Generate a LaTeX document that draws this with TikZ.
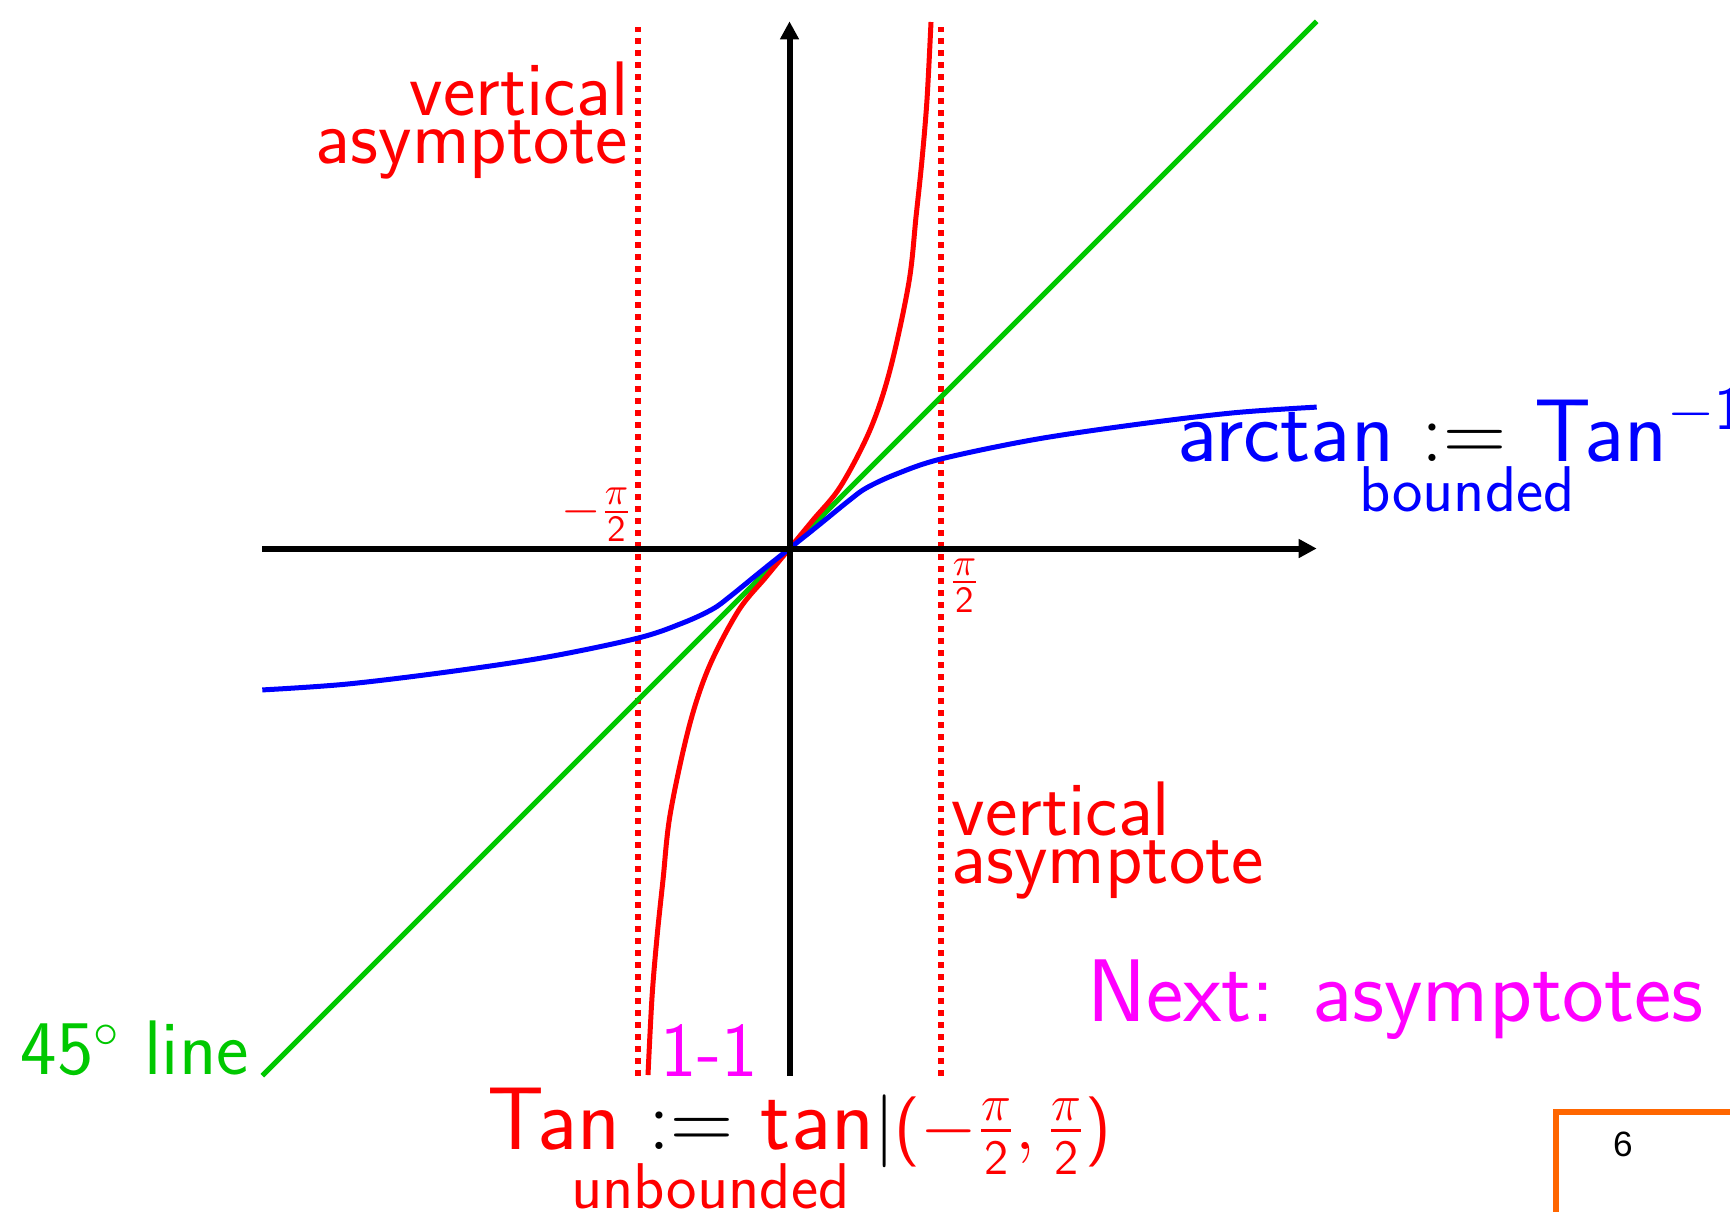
\documentclass[tikz,border=0pt]{standalone}
\usepackage{amsmath}
\usepackage{fontspec}
\newfontfamily\pagefont{Liberation Sans}
\usetikzlibrary{arrows.meta, positioning, calc}

\definecolor{tred}{RGB}{255,0,0}
\definecolor{tblue}{RGB}{0,0,255}
\definecolor{tgreen}{RGB}{0,200,0}
\definecolor{tmagenta}{RGB}{255,0,255}
\definecolor{torange}{RGB}{255,102,0}

\begin{document}
\begin{tikzpicture}[
        % styles for lines and labels
        axis/.style={
            line width=0.06cm,
            -{Triangle[length=0.18cm,width=0.18cm]}
        },
        asym/.style={
            draw=tred,
            line width=0.06cm,
            dash pattern=on 0.06cm off 0.06cm
        },
        curve/.style={
            line width=0.05cm,
            smooth,
            tension=0.55
        },
        bigtext/.style={
            font=\sffamily\fontsize{25.3}{28}\selectfont,
            inner sep=0pt
        },
        midtext/.style={
            font=\sffamily\fontsize{22}{13.4}\selectfont,
            inner sep=0pt
        },
        smalltext/.style={
            font=\sffamily\fontsize{18.4}{20}\selectfont,
            inner sep=0pt
        },
        ticktext/.style={
            font=\sffamily\fontsize{15}{16}\selectfont,
            inner sep=0pt
        }
    ]

    % frame of the picture
    \useasboundingbox (-7.895,-6.625) rectangle (9.405,5.485);

    % --- 1. AXES, ASYMPTOTES AND CURVES ---
    \begin{scope}[x=0.962cm, y=0.962cm]
        \coordinate (xLeft) at (-5.48,0);
        \coordinate (xRight) at (5.48,0);
        \coordinate (yBottom) at (0,-5.48);
        \coordinate (yTop) at (0,5.48);

        \coordinate (aLeftBot) at (-pi/2,-5.48);
        \coordinate (aLeftTop) at (-pi/2,5.42);
        \coordinate (aRightBot) at (pi/2,-5.48);
        \coordinate (aRightTop) at (pi/2,5.42);

        % dotted vertical asymptotes
        \draw[asym] (aLeftBot) -- (aLeftTop);
        \draw[asym] (aRightBot) -- (aRightTop);

        % 45 degree line
        \draw[tgreen, line width=0.05cm] (-5.48,-5.48) -- (5.48,5.48);

        % Tan (red)
        \draw[tred, curve] plot coordinates {
            (-1.471,-5.473) (-1.429,-4.662) (-1.377,-4.038) (-1.315,-3.446)
            (-1.240,-2.760) (-1.045,-1.856) (-0.837,-1.232) (-0.530,-0.645)
            (-0.244,-0.296) (0,0) (0.244,0.296) (0.530,0.645) (0.837,1.232)
            (1.045,1.856) (1.240,2.760) (1.315,3.446) (1.377,4.038)
            (1.429,4.662) (1.471,5.473)};

        % arctan (blue)
        \draw[tblue, curve] plot coordinates {
            (-5.48,-1.47) (-4.61,-1.41) (-3.57,-1.285) (-2.53,-1.13)
            (-1.571,-0.93) (-1.1,-0.77) (-0.8,-0.63) (-0.62,-0.5) (-0.3,-0.24)
            (0,0) (0.3,0.24) (0.62,0.5) (0.8,0.63) (1.1,0.77) (1.571,0.93)
            (2.53,1.13) (3.57,1.285) (4.61,1.41) (5.48,1.47)};

        % axes on top
        \draw[axis] (xLeft) -- (xRight);
        \draw[axis] (yBottom) -- (yTop);
    \end{scope}

    % --- 2. LABELS ---
    \node[midtext, text=tred, align=right, anchor=base east] (vaTop)
        at (-1.605,3.855) {vertical\\asymptote};
    \node[midtext, text=tred, align=left, anchor=base west] (vaBottom)
        at (1.615,-3.345) {vertical\\asymptote};

    \node[ticktext, text=tred, anchor=east] (negHalfPi)
        at (-1.565,0.335) {$-\frac{\pi}{\mathsf{2}}$};
    \node[ticktext, text=tred, anchor=west] (posHalfPi)
        at (1.585,-0.37) {$\frac{\pi}{\mathsf{2}}$};

    \node[bigtext, text=tblue, anchor=base west] (arctanLabel)
        at (3.87,0.875) {arctan \textcolor{black}{$:=$} Tan$^{-\mathsf{1}}$};
    \node[smalltext, text=tblue, anchor=base west] (boundedLabel)
        at (5.69,0.375) {bounded};

    \node[bigtext, text=tmagenta, anchor=base west] (nextLabel)
        at (2.97,-4.725) {Next: asymptotes};

    \node[midtext, text=tgreen, anchor=base west] (lineLabel)
        at (-7.695,-5.255) {45$^\circ$ line};
    \node[midtext, text=tmagenta, anchor=base west] (oneOne)
        at (-1.295,-5.275) {1-1};

    \node[bigtext, text=tred, anchor=base west] (tanLabel)
        at (-3.03,-6.005) {Tan \textcolor{black}{$:=$} tan{\fontsize{20}{22}\selectfont\textcolor{black}{$|$}($-\frac{\pi}{\mathsf{2}},\frac{\pi}{\mathsf{2}}$)}};
    \node[smalltext, text=tred, anchor=base west] (unboundedLabel)
        at (-2.19,-6.595) {unbounded};

    % --- 3. PAGE CORNER ---
    \draw[torange, line width=0.06cm] (7.665,-5.635) rectangle (10.2,-7.2);
    \node[font=\pagefont\fontsize{10}{12}\selectfont, inner sep=0pt] (pageNum)
        at (8.335,-5.96) {6};

\end{tikzpicture}
\end{document}
